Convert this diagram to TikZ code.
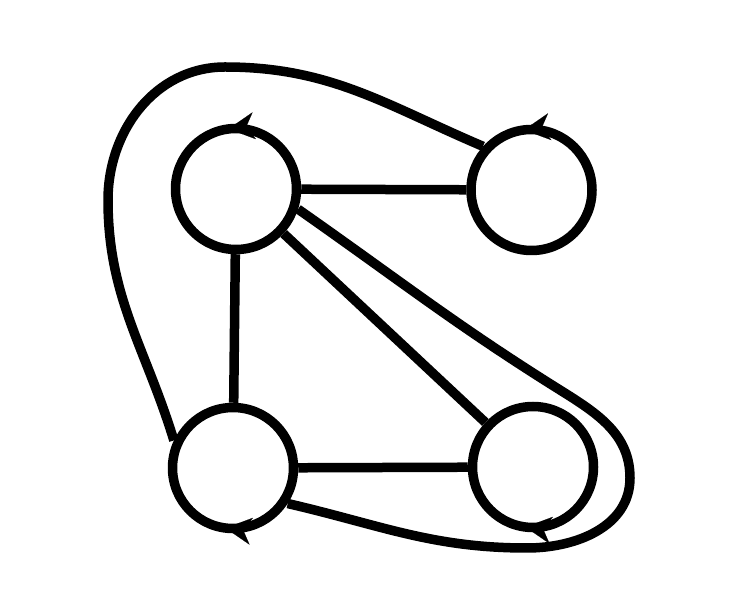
\documentclass[tikz,border=0pt]{standalone}
\usetikzlibrary{arrows.meta,decorations.markings}
\tikzset{
  ln/.style={line width=9.5pt, black},
  vtx/.style={circle, draw, ln, inner sep=0pt, minimum size=121pt},
  tiphead/.tip={Stealth[length=26pt, width=27pt, inset=8pt, line width=0.1pt]},
  arrtop/.style={postaction={decorate, decoration={markings, mark=at position 0.27 with {\arrow{tiphead}}}}},
  arrbot/.style={postaction={decorate, decoration={markings, mark=at position 0.73 with {\arrowreversed{tiphead}}}}},
}
\begin{document}
\begin{tikzpicture}[x=1pt,y=1pt]
\useasboundingbox[fill=white] (0,0) rectangle (747,605);
\node[vtx, arrtop] (tl) at (236,416) {};
\node[vtx, arrtop] (tr) at (531.5,415) {};
\node[vtx, arrbot] (bl) at (233,137) {};
\node[vtx, arrbot] (br) at (533,138) {};
\coordinate (w1) at (225,538);
\coordinate (w2) at (108,405);
\coordinate (w3) at (560,215);
\coordinate (w4) at (630,127);
\coordinate (w5) at (527,57);
\draw[ln] (tl) -- (tr);
\draw[ln] (tl) -- (bl);
\draw[ln] (bl) -- (br);
\draw[ln] (tl) -- (br);
\draw[ln] (tr.138) to[out=157,in=0] (w1) to[out=180,in=90] (w2) to[out=-90,in=107] (bl.155);
\draw[ln] (tl.-18) to[out=-35,in=148] (w3) to[out=-32,in=90] (w4) to[out=-90,in=0] (w5) to[out=180,in=-13] (bl.-33);
\end{tikzpicture}
\end{document}
